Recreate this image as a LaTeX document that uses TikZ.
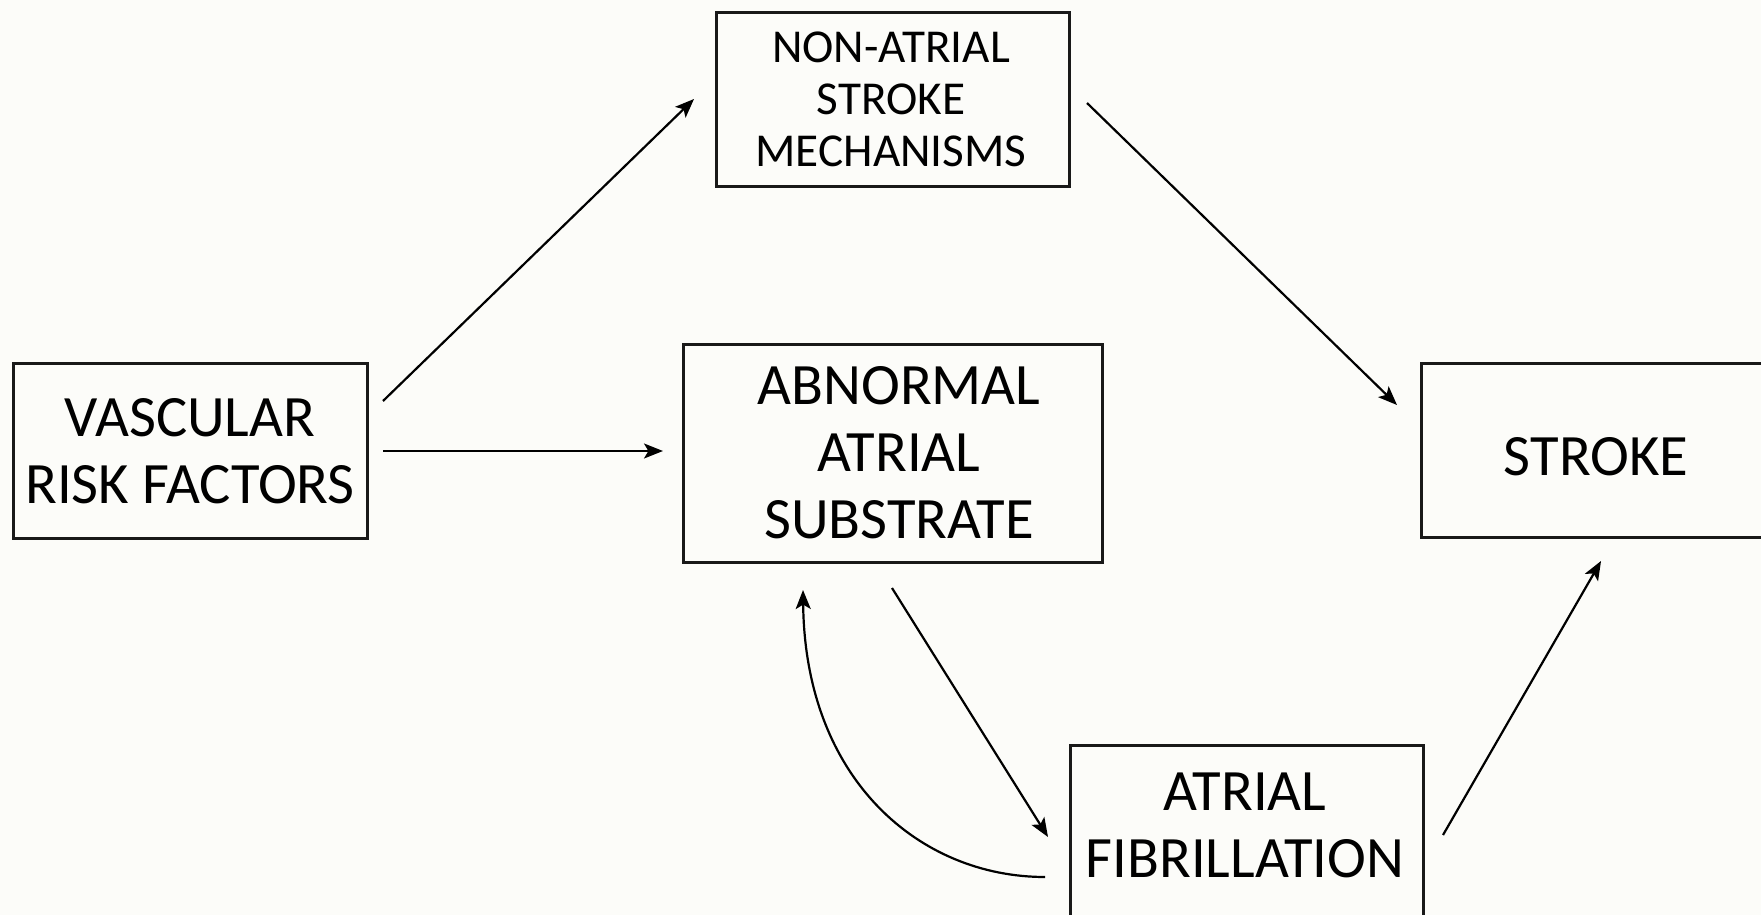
\documentclass[tikz,border=0pt]{standalone}
\usepackage{fontspec}
\setmainfont{Carlito}
\usetikzlibrary{arrows.meta}
\definecolor{bg}{RGB}{252,252,249}
\begin{document}
\begin{tikzpicture}[x=0.5pt,y=-0.5pt,
  box/.style={draw=black!90,line width=1.5pt,rectangle,inner sep=0pt},
  bigtxt/.style={align=center,inner sep=0pt,anchor=base,font=\fontsize{29.3pt}{33.5pt}\selectfont},
  smalltxt/.style={align=center,inner sep=0pt,anchor=base,font=\fontsize{23.6pt}{26pt}\selectfont},
  arr/.style={line width=1.1pt,-{Stealth[length=9.5pt,width=7.5pt,inset=2.2pt]}}]
\fill[bg] (0,0) rectangle (1761,915);
\useasboundingbox (0,0) rectangle (1761,915);
% boxes
\node[box,minimum width=177pt,minimum height=87.5pt] (V) at (190,450.5) {};
\node[box,minimum width=176.5pt,minimum height=86.5pt] (N) at (892.5,99.5) {};
\node[box,minimum width=209.5pt,minimum height=109pt] (A) at (892.5,453) {};
\node[box,minimum width=180pt,minimum height=87pt] (S) at (1601,450) {};
\node[box,minimum width=176.5pt,minimum height=100pt] (F) at (1246.5,845) {};
% texts (anchored at the baseline of the last line)
\node[bigtxt] (Vt) at (190,503) {VASCULAR\\RISK FACTORS};
\node[smalltxt] (Nt) at (891,167) {NON-ATRIAL\\STROKE\\MECHANISMS};
\node[bigtxt] (At) at (899,538) {ABNORMAL\\ATRIAL\\SUBSTRATE};
\node[bigtxt] (St) at (1596,475) {STROKE};
\node[bigtxt] (Ft) at (1245,877) {ATRIAL\\FIBRILLATION};
% connector ends
\coordinate (v1) at (383,401); \coordinate (n1) at (694,99);
\coordinate (v2) at (383,451); \coordinate (a1) at (663,451);
\coordinate (n2) at (1087,103); \coordinate (s1) at (1397,405);
\coordinate (a2) at (892,588); \coordinate (f1) at (1048,837);
\coordinate (f2) at (1443,835); \coordinate (s2) at (1601,561);
\coordinate (f3) at (1045,877); \coordinate (a3) at (803,590);
\draw[arr] (v1) -- (n1);
\draw[arr] (v2) -- (a1);
\draw[arr] (n2) -- (s1);
\draw[arr] (a2) -- (f1);
\draw[arr] (f2) -- (s2);
\draw[arr] (f3) .. controls (920,877) and (805,780) .. (a3);
\end{tikzpicture}
\end{document}
